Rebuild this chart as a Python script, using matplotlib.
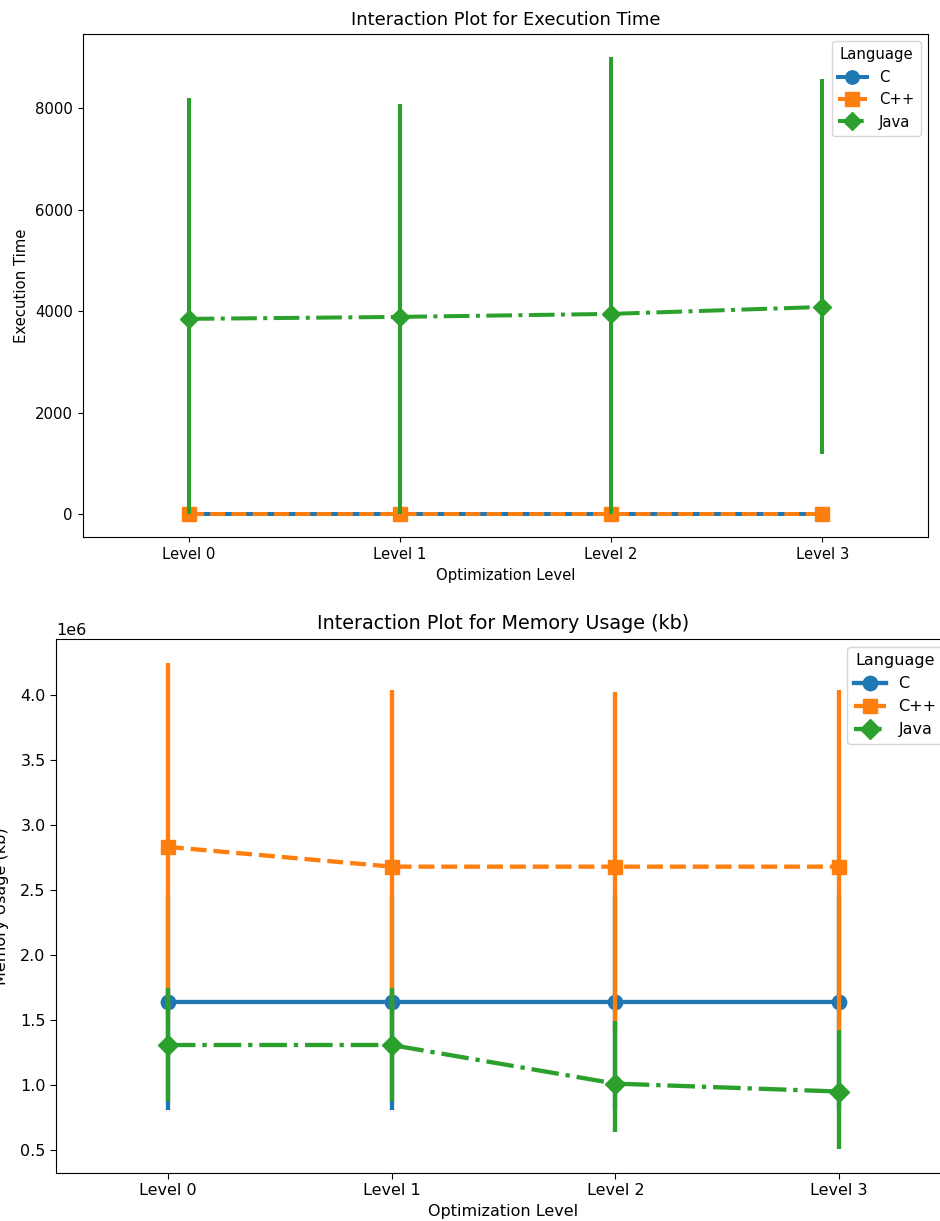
import numpy as np
import matplotlib.pyplot as plt

levels = ['Level 0', 'Level 1', 'Level 2', 'Level 3']
langs = ['C', 'C++', 'Java']

# execution time: mean, ci low, ci high
time_mean = {'C': [2, 2, 2, 2], 'C++': [3, 3, 3, 3], 'Java': [3851, 3890, 3949, 4086]}
time_lo = {'C': [1, 1, 1, 1], 'C++': [1, 1, 1, 1], 'Java': [10, 10, 10, 1179]}
time_hi = {'C': [4, 4, 4, 4], 'C++': [5, 5, 5, 5], 'Java': [8212, 8094, 9018, 8585]}

# memory usage (kb)
mem_mean = {'C': [1.636e6, 1.636e6, 1.636e6, 1.636e6],
            'C++': [2.832e6, 2.680e6, 2.680e6, 2.680e6],
            'Java': [1.308e6, 1.308e6, 1.011e6, 0.950e6]}
mem_lo = {'C': [0.81e6, 0.81e6, 0.81e6, 0.81e6],
          'C++': [1.50e6, 1.42e6, 1.42e6, 1.42e6],
          'Java': [0.88e6, 0.88e6, 0.64e6, 0.51e6]}
mem_hi = {'C': [2.46e6, 2.46e6, 2.46e6, 2.46e6],
          'C++': [4.244e6, 4.04e6, 4.02e6, 4.04e6],
          'Java': [1.75e6, 1.75e6, 1.49e6, 1.42e6]}

colors = {'C': '#1f77b4', 'C++': '#ff7f0e', 'Java': '#2ca02c'}
markers = {'C': 'o', 'C++': 's', 'Java': 'D'}
styles = {'C': '-', 'C++': '--', 'Java': '-.'}


def interaction(ax, mean, lo, hi, title, ylabel, s):
    # s = scale factor, the two panels are drawn at slightly different sizes
    x = np.arange(len(levels))
    for lang in langs:
        ax.plot(x, mean[lang], color=colors[lang], marker=markers[lang],
                linestyle=styles[lang], linewidth=2.7*s, markersize=9*s, label=lang)
        ax.vlines(x, lo[lang], hi[lang], color=colors[lang], linewidth=2.7*s)
    ax.set_xticks(x)
    ax.set_xticklabels(levels)
    ax.set_xlim(-0.5, len(levels) - 0.5)
    ax.tick_params(labelsize=10*s, length=3.5*s)
    ax.yaxis.get_offset_text().set_fontsize(10*s)
    ax.set_title(title, fontsize=12*s, pad=6*s)
    ax.set_xlabel('Optimization Level', fontsize=10*s)
    ax.set_ylabel(ylabel, fontsize=10*s)
    ax.legend(title='Language', loc='upper right', fontsize=10*s, title_fontsize=10*s)


fig = plt.figure(figsize=(9.4, 12.21), dpi=100)
ax1 = fig.add_axes([0.0883, 0.5602, 0.8989, 0.4120])
ax2 = fig.add_axes([0.0596, 0.0393, 0.9521, 0.4373])

interaction(ax1, time_mean, time_lo, time_hi,
            'Interaction Plot for Execution Time', 'Execution Time', 1.07)
interaction(ax2, mem_mean, mem_lo, mem_hi,
            'Interaction Plot for Memory Usage (kb)', 'Memory Usage (kb)', 1.15)
ax2.yaxis.set_label_coords(-0.0525, 0.5)

fig.savefig('out.png', dpi=100)
